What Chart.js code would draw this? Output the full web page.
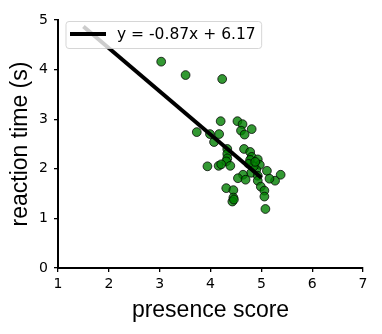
<!DOCTYPE html>
<html>
<head>
<meta charset="utf-8">
<script src="https://cdn.jsdelivr.net/npm/chart.js@4"></script>
<style>
  html, body { margin: 0; padding: 0; background: #fff; }
  #wrap { width: 382px; height: 334px; }
</style>
</head>
<body>
<div id="wrap"><canvas id="chart" width="382" height="334"></canvas></div>
<script>
// presence score vs reaction time
const presence = [3.03, 3.51, 4.23, 3.73, 4.20, 3.99, 4.17, 4.07, 4.53, 4.63,
                  4.60, 4.67, 4.81, 4.33, 4.33, 4.33, 4.31, 4.66, 4.78, 4.81,
                  4.78, 4.93, 4.97, 3.94, 4.16, 4.21, 4.39, 4.90, 4.85, 4.80,
                  5.11, 5.38, 5.27, 5.16, 4.64, 4.54, 4.69, 4.93, 4.93, 4.99,
                  5.06, 5.06, 5.08, 4.31, 4.45, 4.45, 4.43, 4.46, 4.75, 4.88];
const reactionTime = [4.16, 3.89, 3.81, 2.74, 2.96, 2.70, 2.70, 2.54, 2.96, 2.90,
                      2.77, 2.69, 2.80, 2.40, 2.30, 2.21, 2.15, 2.40, 2.34, 2.24,
                      2.18, 2.19, 2.08, 2.05, 2.06, 2.09, 2.06, 1.98, 2.05, 1.92,
                      1.96, 1.88, 1.76, 1.80, 1.88, 1.81, 1.78, 1.86, 1.76, 1.64,
                      1.56, 1.44, 1.19, 1.61, 1.57, 1.42, 1.34, 1.38, 2.10, 2.14];
// fitted line end points
const fitX = [1.5, 5.0];
const fitY = [4.87, 1.82];
const fitLabel = 'y = -0.87x + 6.17';
const xTicks = [1, 2, 3, 4, 5, 6, 7];
const yTicks = [0, 1, 2, 3, 4, 5];

const FONT = "'DejaVu Sans', sans-serif";
const TITLE_FONT = "'Liberation Sans', Arial, sans-serif";

// matplotlib-like legend sitting inside the axes, upper left
const innerLegend = {
    id: 'innerLegend',
    afterDatasetsDraw(chart) {
        const ctx = chart.ctx;
        const area = chart.chartArea;
        const ds = chart.data.datasets[1];
        ctx.save();
        ctx.font = '15.5px ' + FONT;
        const tw = ctx.measureText(ds.label).width;
        const x0 = area.left + 8, y0 = area.top + 1.5;
        const w = 51 + tw + 6, h = 27;
        ctx.beginPath();
        ctx.roundRect(x0, y0, w, h, 3);
        ctx.fillStyle = 'rgba(255,255,255,0.8)';
        ctx.fill();
        ctx.strokeStyle = 'rgba(204,204,204,0.8)';
        ctx.lineWidth = 1;
        ctx.stroke();
        ctx.beginPath();
        ctx.moveTo(x0 + 4, y0 + 12.5);
        ctx.lineTo(x0 + 40, y0 + 12.5);
        ctx.strokeStyle = ds.borderColor;
        ctx.lineWidth = ds.borderWidth;
        ctx.stroke();
        ctx.fillStyle = '#000';
        ctx.textBaseline = 'middle';
        ctx.fillText(ds.label, x0 + 51, y0 + 13);
        ctx.restore();
    }
};

new Chart(document.getElementById('chart'), {
    type: 'scatter',
    data: {
        datasets: [{
            label: 'data',
            data: presence.map((x, i) => ({ x: x, y: reactionTime[i] })),
            backgroundColor: 'rgba(0,128,0,0.8)',
            borderColor: 'rgba(0,0,0,0.75)',
            borderWidth: 1,
            pointRadius: 4.4,
            order: 2
        }, {
            label: fitLabel,
            type: 'line',
            data: fitX.map((x, i) => ({ x: x, y: fitY[i] })),
            borderColor: '#000',
            borderWidth: 4,
            pointRadius: 0,
            fill: false,
            order: 1
        }]
    },
    options: {
        responsive: false,
        animation: false,
        layout: { padding: { left: 7, right: 19, top: 20, bottom: 10 } },
        plugins: { legend: { display: false }, tooltip: { enabled: false } },
        scales: {
            x: {
                type: 'linear', min: 1, max: 7,
                afterBuildTicks: s => { s.ticks = xTicks.map(v => ({ value: v })); },
                afterFit: s => { s.height = 56; },
                border: { display: true, color: '#000', width: 2 },
                grid: { drawOnChartArea: false, drawTicks: true, tickLength: 4, color: '#000', lineWidth: 1.3 },
                ticks: { color: '#000', font: { family: FONT, size: 14 }, padding: 4, maxRotation: 0 },
                title: { display: true, text: 'presence score', color: '#000',
                         font: { family: TITLE_FONT, size: 23 }, padding: 0 }
            },
            y: {
                type: 'linear', min: 0, max: 5,
                afterBuildTicks: s => { s.ticks = yTicks.map(v => ({ value: v })); },
                afterFit: s => { s.width = 51; },
                border: { display: true, color: '#000', width: 2 },
                grid: { drawOnChartArea: false, drawTicks: true, tickLength: 4, color: '#000', lineWidth: 1.3 },
                ticks: { color: '#000', font: { family: FONT, size: 14 }, padding: 6 },
                title: { display: true, text: 'reaction time (s)', color: '#000',
                         font: { family: TITLE_FONT, size: 23 }, padding: 0 }
            }
        }
    },
    plugins: [innerLegend]
});
</script>
</body>
</html>
